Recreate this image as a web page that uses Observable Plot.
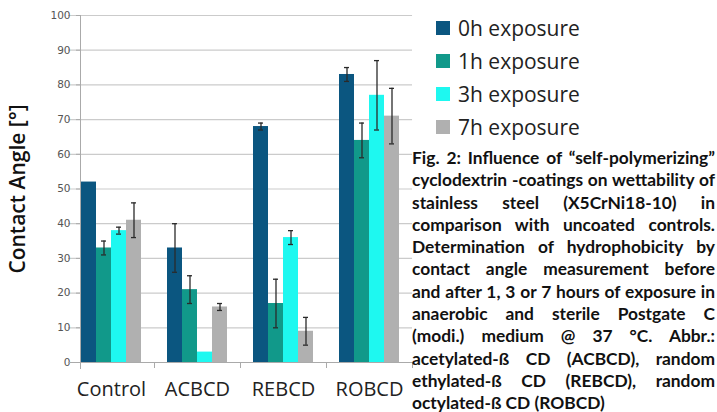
<!DOCTYPE html>
<html><head><meta charset="utf-8">
<script src="https://cdn.jsdelivr.net/npm/d3@7"></script>
<script src="https://cdn.jsdelivr.net/npm/@observablehq/plot@0.6"></script>
<style>
body{margin:0;background:#fff;}
#wrap{position:relative;width:717px;height:412px;overflow:hidden;background:#fff;}
#legend{position:absolute;left:436px;top:11px;}
.li{display:flex;align-items:center;height:33px;font-family:"Open Sans",sans-serif;font-size:21px;color:#222;}
.sw{width:14px;height:14px;margin-right:8px;flex:none;}
#caption{position:absolute;left:412px;top:147px;width:303px;font-family:Lato,sans-serif;font-weight:700;font-size:15px;line-height:22.3px;color:#111;}
#caption div{text-align:justify;text-align-last:justify;white-space:nowrap;}
#caption div.last{text-align-last:left;}
</style>
</head><body>
<div id="wrap"></div>
<script>
const categories = ["Control", "ACBCD", "REBCD", "ROBCD"];
const series = ["0h exposure", "1h exposure", "3h exposure", "7h exposure"];
const colors = ["#0b5680", "#11998a", "#1ef8f0", "#b0b0b0"];
const values0h = [52, 33, 68, 83];
const values1h = [33, 21, 17, 64];
const values3h = [38, 3, 36, 77];
const values7h = [41, 16, 9, 71];
const errors0h = [0, 7, 1, 2];
const errors1h = [2, 4, 7, 5];
const errors3h = [1, 0, 2, 10];
const errors7h = [5, 1, 4, 8];
const yTicks = [0, 10, 20, 30, 40, 50, 60, 70, 80, 90, 100];
const yLabel = "Contact Angle [°]";
const captionLines = [
  "Fig. 2: Influence of “self-polymerizing”",
  "cyclodextrin -coatings on wettability of",
  "stainless steel (X5CrNi18-10) in",
  "comparison with uncoated controls.",
  "Determination of hydrophobicity by",
  "contact angle measurement before",
  "and after 1, 3 or 7 hours of exposure in",
  "anaerobic and sterile Postgate C",
  "(modi.) medium @ 37 °C. Abbr.:",
  "acetylated-ß CD (ACBCD), random",
  "ethylated-ß CD (REBCD), random",
  "octylated-ß CD (ROBCD)"
];

const valueSets = [values0h, values1h, values3h, values7h];
const errorSets = [errors0h, errors1h, errors3h, errors7h];
const rows = [];
categories.forEach((c, i) => series.forEach((s, j) => {
  rows.push({category: c, series: s, value: valueSets[j][i], err: errorSets[j][i]});
}));
const errRows = rows.filter(d => d.err > 0);

const W = 717, H = 412, mL = 68, mR = 305, mT = 15, mB = 50;
const padIn = 0.28, padOut = 0.14;
const step = (W - mL - mR) / categories.length;
const ext = -step * padOut;

const chart = Plot.plot({
  width: W, height: H,
  marginLeft: mL, marginRight: mR, marginTop: mT, marginBottom: mB,
  style: {background: "transparent", overflow: "visible"},
  fx: {domain: categories, paddingInner: padIn, paddingOuter: padOut, label: null},
  x: {domain: series, padding: 0, axis: null},
  y: {domain: [0, 100], label: null},
  color: {domain: series, range: colors},
  marks: [
    Plot.ruleY(yTicks.filter(t => t > 0), {y: d => d, stroke: "#cbcbcb", strokeWidth: 1.2, insetLeft: ext, insetRight: ext}),
    Plot.axisY({ticks: yTicks, tickSize: 4, tickPadding: 6, fontSize: 10.5, fill: "#555", stroke: "#aaa", label: null, fontFamily: "DejaVu Sans", facetAnchor: "left"}),
    Plot.frame({anchor: "left", stroke: "#aaa", insetBottom: -6, facet: "super"}),
    Plot.barY(rows, {fx: "category", x: "series", y: "value", fill: "series"}),
    Plot.ruleX(errRows, {fx: "category", x: "series", y1: d => d.value - d.err, y2: d => d.value + d.err, stroke: "#2a2a2a", strokeWidth: 1.3}),
    Plot.tickY(errRows, {fx: "category", x: "series", y: d => d.value - d.err, stroke: "#2a2a2a", strokeWidth: 1.3, inset: 5}),
    Plot.tickY(errRows, {fx: "category", x: "series", y: d => d.value + d.err, stroke: "#2a2a2a", strokeWidth: 1.3, inset: 5}),
    Plot.ruleY([0], {stroke: "#aaa", strokeWidth: 1.2, insetLeft: ext, insetRight: ext}),
    Plot.axisFx({anchor: "bottom", text: null, tickSize: 6, dx: step / 2, stroke: "#aaa", label: null}),
    Plot.axisFx({anchor: "bottom", tickSize: 0, tickPadding: 19, fontSize: 20, fill: "#222", fontFamily: "Open Sans", label: null}),
    Plot.text([yLabel], {frameAnchor: "left", textAnchor: "middle", lineAnchor: "middle", rotate: -90, dx: -62, fontSize: 21, fontWeight: 600, fontFamily: "Open Sans", fill: "#111", facet: "super"})
  ]
});
const wrap = document.getElementById("wrap");
wrap.appendChild(chart);

const legend = document.createElement("div");
legend.id = "legend";
series.forEach((s, j) => {
  const li = document.createElement("div");
  li.className = "li";
  const sw = document.createElement("span");
  sw.className = "sw";
  sw.style.background = colors[j];
  li.appendChild(sw);
  li.appendChild(document.createTextNode(s));
  legend.appendChild(li);
});
wrap.appendChild(legend);

const cap = document.createElement("div");
cap.id = "caption";
captionLines.forEach((t, i) => {
  const d = document.createElement("div");
  d.textContent = t;
  if (i === captionLines.length - 1) d.className = "last";
  cap.appendChild(d);
});
wrap.appendChild(cap);
// fit the caption font so the longest natural line fills the column
const probe = document.createElement("span");
probe.style.cssText = "position:absolute;visibility:hidden;white-space:nowrap;font-family:Lato,sans-serif;font-weight:700;font-size:15px;";
document.body.appendChild(probe);
let maxW = 0;
captionLines.forEach(t => { probe.textContent = t; maxW = Math.max(maxW, probe.getBoundingClientRect().width); });
probe.remove();
cap.style.fontSize = (15 * 301 / maxW).toFixed(2) + "px";
</script>
</body></html>
